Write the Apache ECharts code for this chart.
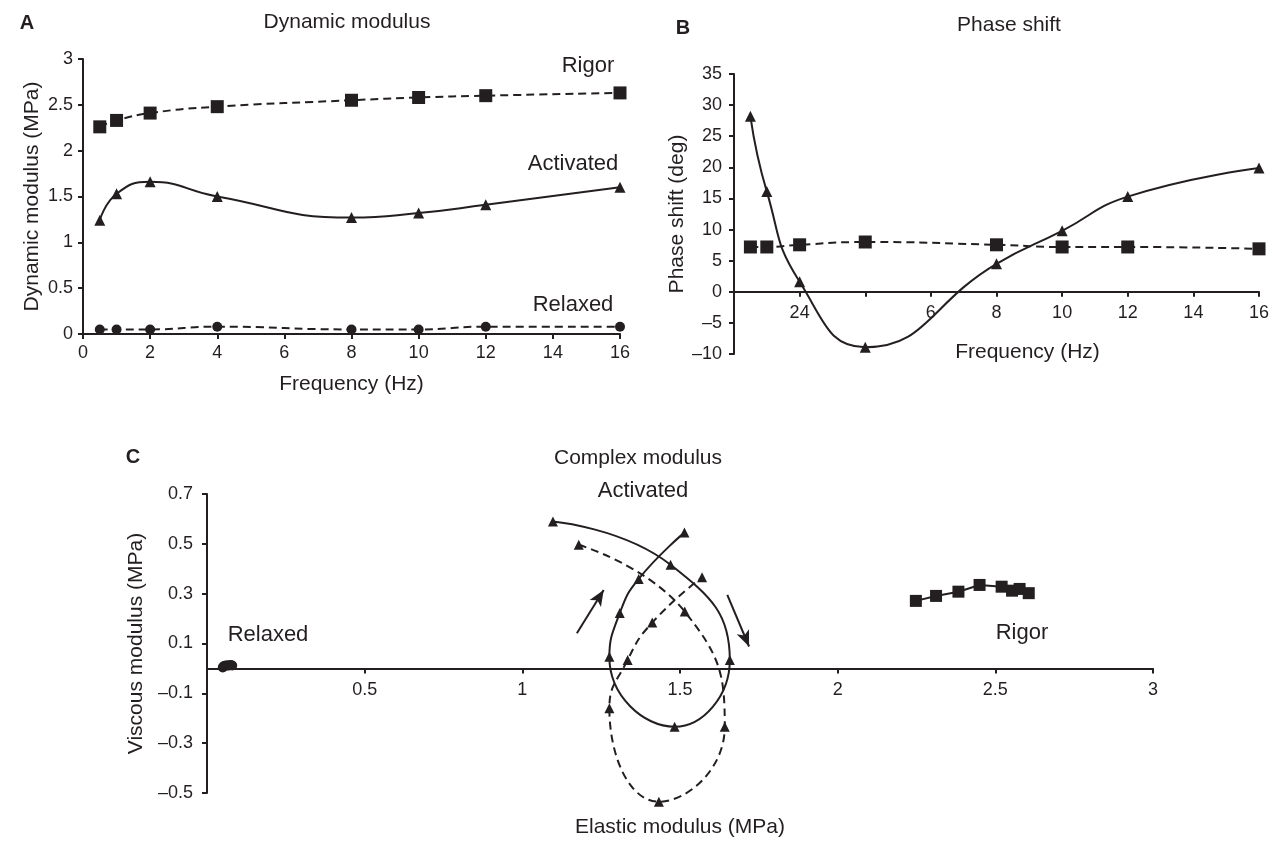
<!DOCTYPE html>
<html>
<head>
<meta charset="utf-8">
<title>Dynamic modulus, phase shift and complex modulus</title>
<script src="https://cdn.jsdelivr.net/npm/echarts@6/dist/echarts.min.js"></script>
<style>
  html, body { margin: 0; padding: 0; background: #fff; }
  #chart { width: 1272px; height: 843px; }
</style>
</head>
<body>
<div id="chart"></div>
<script>
// frequencies used in panels A and B
const freqHz = [0.5, 1, 2, 4, 8, 10, 12, 16];

// A: dynamic modulus (MPa)
const dynRigor = [2.26, 2.33, 2.41, 2.48, 2.55, 2.58, 2.60, 2.63];
const dynActivated = [1.24, 1.53, 1.66, 1.50, 1.27, 1.32, 1.41, 1.60];
const dynRelaxed = [0.05, 0.05, 0.05, 0.08, 0.05, 0.05, 0.08, 0.08];

// B: phase shift (deg)
const phaseRigor = [7.2, 7.2, 7.55, 8.0, 7.55, 7.2, 7.2, 6.9];
const phaseActivated = [28.2, 16.1, 1.6, -8.9, 4.5, 9.8, 15.3, 19.9];
// B tick labels as printed in the figure
const phaseTickLabels = { 0: "", 2: "24", 4: "", 6: "6", 8: "8", 10: "10", 12: "12", 14: "14", 16: "16" };

// C: complex modulus, elastic (x) and viscous (y), MPa
const rigorElastic = [2.248, 2.312, 2.383, 2.45, 2.52, 2.553, 2.577, 2.606];
const rigorViscous = [0.271, 0.291, 0.308, 0.335, 0.328, 0.312, 0.319, 0.302];
const actSolidElastic = [1.097, 1.47, 1.658, 1.483, 1.276, 1.309, 1.369, 1.514];
const actSolidViscous = [0.59, 0.416, 0.034, -0.234, 0.047, 0.222, 0.359, 0.545];
const actDashElastic = [1.179, 1.515, 1.642, 1.433, 1.276, 1.334, 1.412, 1.57];
const actDashViscous = [0.496, 0.228, -0.234, -0.535, -0.16, 0.034, 0.184, 0.366];
const relaxedElastic = [0.05, 0.052, 0.055, 0.06, 0.065, 0.07, 0.075, 0.08];
const relaxedViscous = [0.004, 0.008, 0.01, 0.012, 0.012, 0.012, 0.014, 0.012];
// direction arrows in C (data coords: start, end)
const arrowUp = [[1.173, 0.141], [1.258, 0.315]];
const arrowDown = [[1.65, 0.295], [1.719, 0.088]];

const ink = "#231f20";
const FONT = '"Liberation Sans", Arial, Helvetica, sans-serif';

// grid boxes (px)
const gridA = { left: 83, top: 59, width: 537, height: 275 };
const gridB = { left: 734, top: 74, width: 525, height: 280 };
const gridC = { left: 207, top: 494, width: 946, height: 299 };

const phaseRange = [-10, 35];
const viscRange = [-0.5, 0.7];

function pairs(xs, ys) {
  return xs.map((x, i) => [x, ys[i]]);
}

function dash(v) {
  return String(v).replace("-", "\u2013");
}

// move an x axis from the grid bottom up to the y = 0 line
function zeroOffset(grid, range) {
  return -grid.height * (0 - range[0]) / (range[1] - range[0]);
}

function lineSeries(name, idx, data, symbol, size, dashed, smooth) {
  return {
    name: name,
    type: "line",
    xAxisIndex: idx,
    yAxisIndex: idx,
    data: data,
    symbol: symbol,
    symbolSize: size,
    smooth: smooth,
    clip: false,
    lineStyle: { color: ink, width: 2, type: dashed ? [8, 5] : "solid" },
    itemStyle: { color: ink, borderWidth: 0 },
    emphasis: { disabled: true },
    silent: true
  };
}

function axis(idx, extra) {
  const a = {
    type: "value",
    gridIndex: idx,
    splitLine: { show: false },
    axisLine: { show: true, onZero: false, lineStyle: { color: ink, width: 2 } },
    axisTick: { show: true, length: 5, lineStyle: { color: ink, width: 2 } },
    axisLabel: { color: ink, fontSize: 18, fontFamily: FONT, margin: 10 },
    nameLocation: "middle",
    nameTextStyle: { color: ink, fontSize: 21, fontFamily: FONT }
  };
  for (const k in extra) {
    if (typeof extra[k] === "object" && a[k] && !Array.isArray(extra[k])) {
      a[k] = Object.assign({}, a[k], extra[k]);
    } else {
      a[k] = extra[k];
    }
  }
  return a;
}

function text(str, x, y, size, bold) {
  return {
    type: "text",
    x: x,
    y: y,
    silent: true,
    style: {
      text: str,
      fill: ink,
      font: (bold ? "bold " : "") + size + "px " + FONT,
      align: "center",
      verticalAlign: "middle",
      textAlign: "center",
      textVerticalAlign: "middle"
    }
  };
}

const chart = echarts.init(document.getElementById("chart"), null, { renderer: "canvas" });

chart.setOption({
  animation: false,
  backgroundColor: "#fff",
  grid: [
    Object.assign({ outerBoundsMode: "none" }, gridA),
    Object.assign({ outerBoundsMode: "none" }, gridB),
    Object.assign({ outerBoundsMode: "none" }, gridC)
  ],
  xAxis: [
    axis(0, { min: 0, max: 16, interval: 2, name: "Frequency (Hz)", nameGap: 40 }),
    axis(1, {
      min: 0, max: 16, interval: 2, name: "Frequency (Hz)", nameGap: 50,
      offset: zeroOffset(gridB, phaseRange),
      nameTextStyle: { padding: [0, 0, 0, 62] },
      axisLabel: { margin: 12, formatter: v => phaseTickLabels[v] !== undefined ? phaseTickLabels[v] : String(v) }
    }),
    axis(2, {
      min: 0, max: 3, interval: 0.5, name: "Elastic modulus (MPa)", nameGap: 148,
      offset: zeroOffset(gridC, viscRange),
      axisLabel: { margin: 13, formatter: v => (v === 0 ? "" : String(v)) }
    })
  ],
  yAxis: [
    axis(0, { min: 0, max: 3, interval: 0.5, name: "Dynamic modulus (MPa)", nameGap: 40 }),
    axis(1, {
      min: phaseRange[0], max: phaseRange[1], interval: 5, name: "Phase shift (deg)", nameGap: 44,
      axisLabel: { margin: 12, formatter: v => dash(v) }
    }),
    axis(2, {
      min: viscRange[0], max: viscRange[1], interval: 0.2, name: "Viscous modulus (MPa)", nameGap: 60,
      axisLabel: { margin: 14, formatter: v => dash(v.toFixed(1)) }
    })
  ],
  graphic: [
    text("A", 27, 23, 20, true),
    text("B", 683, 28, 20, true),
    text("C", 133, 457, 20, true),
    text("Dynamic modulus", 347, 22, 21),
    text("Phase shift", 1009, 25, 21),
    text("Complex modulus", 638, 458, 21),
    text("Rigor", 588, 66, 22),
    text("Activated", 573, 164, 22),
    text("Relaxed", 573, 305, 22),
    text("Activated", 643, 491, 22),
    text("Rigor", 1022, 633, 22),
    text("Relaxed", 268, 635, 22)
  ],
  series: [
    // A
    lineSeries("Rigor", 0, pairs(freqHz, dynRigor), "rect", 13, true, true),
    lineSeries("Activated", 0, pairs(freqHz, dynActivated), "triangle", 11, false, true),
    lineSeries("Relaxed", 0, pairs(freqHz, dynRelaxed), "circle", 10, true, true),
    // B
    lineSeries("Rigor", 1, pairs(freqHz, phaseRigor), "rect", 13, true, true),
    lineSeries("Activated", 1, pairs(freqHz, phaseActivated), "triangle", 11, false, true),
    // C
    lineSeries("Rigor", 2, pairs(rigorElastic, rigorViscous), "rect", 12, false, false),
    Object.assign(lineSeries("Activated", 2, pairs(actSolidElastic, actSolidViscous), "triangle", 10, false, true), {
      markLine: {
        silent: true,
        symbol: ["none", "arrow"],
        symbolSize: [10, 16],
        lineStyle: { color: ink, width: 2, type: "solid" },
        label: { show: false },
        data: [
          [{ coord: arrowUp[0] }, { coord: arrowUp[1] }],
          [{ coord: arrowDown[0] }, { coord: arrowDown[1] }]
        ]
      }
    }),
    lineSeries("Activated (dashed)", 2, pairs(actDashElastic, actDashViscous), "triangle", 10, true, true),
    lineSeries("Relaxed", 2, pairs(relaxedElastic, relaxedViscous), "circle", 10, false, false)
  ]
});
</script>
</body>
</html>
